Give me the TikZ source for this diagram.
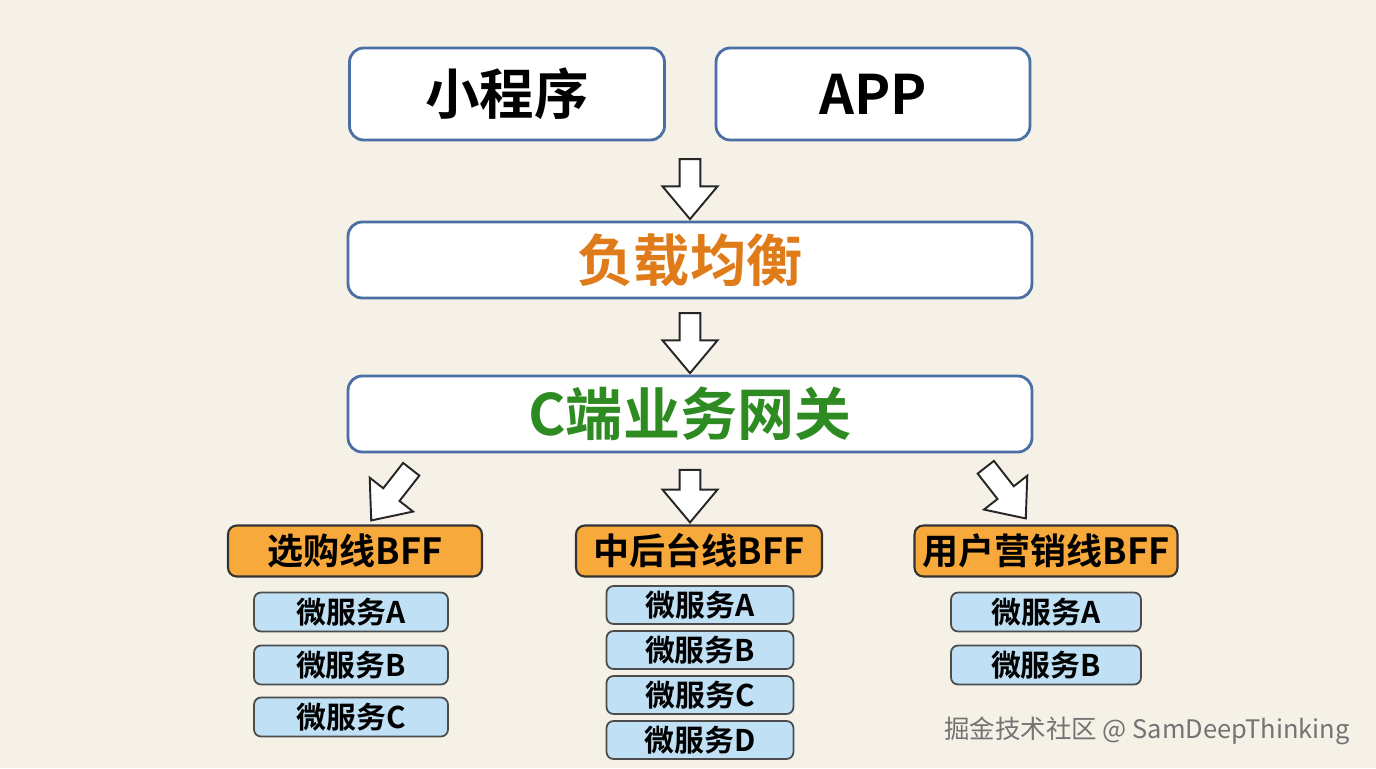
\documentclass[tikz,border=0pt]{standalone}
\usepackage{fontspec}
\setmainfont{Noto Sans CJK SC}[BoldFont={Noto Sans CJK SC Bold}]
\usetikzlibrary{shapes.arrows}
\definecolor{bg}{HTML}{F6F1E7}
\definecolor{bord}{HTML}{4A6FA5}
\definecolor{org}{HTML}{E07B1A}
\definecolor{grn}{HTML}{2E8B22}
\definecolor{bff}{HTML}{F7A93B}
\definecolor{ms}{HTML}{BFE0F5}
\begin{document}
\begin{tikzpicture}[x=0.02cm,y=-0.02cm,
 top/.style={draw=bord,line width=1.6pt,fill=white,rounded corners=8pt,inner sep=0pt,font=\bfseries},
 bffb/.style={draw=black!80,line width=1.2pt,fill=bff,rounded corners=5pt,minimum width=#1,minimum height=1.02cm,inner sep=0pt,font=\bfseries\fontsize{20.5}{22}\selectfont},
 msb/.style={draw=black!70,line width=1pt,fill=ms,rounded corners=4pt,minimum width=#1,minimum height=0.78cm,inner sep=0pt,font=\bfseries\fontsize{17}{18}\selectfont},
 harr/.style={single arrow,draw=black!85,line width=1.1pt,fill=white,minimum height=1.2cm,minimum width=1.1cm,single arrow head extend=0.12cm,single arrow tip angle=80,inner sep=1.5pt}]
\fill[bg] (0,0) rectangle (1376,768);
\useasboundingbox (0,0) rectangle (1376,768);
\node[top,minimum width=6.3cm,minimum height=1.84cm,font=\bfseries\fontsize{31}{36}\selectfont] (mp) at (507,94) {小程序};
\node[top,minimum width=6.28cm,minimum height=1.84cm,font=\bfseries\fontsize{31}{36}\selectfont] (app) at (873,94) {APP};
\node[top,minimum width=13.68cm,minimum height=1.52cm,text=org,font=\bfseries\fontsize{32}{36}\selectfont] (lb) at (690,260) {负载均衡};
\node[top,minimum width=13.68cm,minimum height=1.52cm,text=grn,font=\bfseries\fontsize{32.5}{36}\selectfont] (gw) at (690,414) {C端业务网关};
\node[harr,rotate=-90] (a1) at (690,183) {};
\node[harr,rotate=-90] (a2) at (690,337) {};
\node[harr,rotate=-90,minimum height=1.05cm] (a3) at (690,490) {};
\node[harr,rotate=-128,minimum height=1.3cm] (a4) at (395,490) {};
\node[harr,rotate=-52,minimum height=1.3cm] (a5) at (1002,488) {};
\node[bffb=5.08cm] (b1) at (355,551) {选购线BFF};
\node[bffb=4.92cm] (b2) at (699,551) {中后台线BFF};
\node[bffb=5.26cm] (b3) at (1046,551) {用户营销线BFF};
\node[msb=3.88cm] (l1) at (351,612) {微服务A};
\node[msb=3.88cm] (l2) at (351,665) {微服务B};
\node[msb=3.88cm] (l3) at (351,717) {微服务C};
\node[msb=3.74cm,minimum height=0.76cm] (m1) at (700,605) {微服务A};
\node[msb=3.74cm,minimum height=0.76cm] (m2) at (700,650) {微服务B};
\node[msb=3.74cm,minimum height=0.76cm] (m3) at (700,695) {微服务C};
\node[msb=3.74cm,minimum height=0.76cm] (m4) at (700,740) {微服务D};
\node[msb=3.8cm] (r1) at (1046,612) {微服务A};
\node[msb=3.8cm] (r2) at (1046,665) {微服务B};
\node[anchor=east,text=black!55,font=\fontsize{14.5}{16}\selectfont] (wm) at (1356,731) {掘金技术社区 @ SamDeepThinking};
\end{tikzpicture}
\end{document}
